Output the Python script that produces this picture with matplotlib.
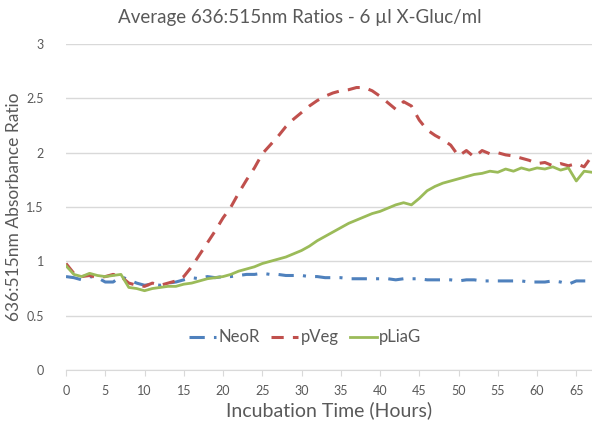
import numpy as np
import matplotlib
matplotlib.use("Agg")
from matplotlib import pyplot as plt

# ---------------------------------------------------------------------------
# Data (one value per hour)
# ---------------------------------------------------------------------------
hours = np.arange(0, 68)

neor = [0.86, 0.85, 0.83, 0.86, 0.85, 0.81, 0.81, 0.86, 0.83, 0.80,
        0.78, 0.79, 0.78, 0.80, 0.81, 0.83, 0.85, 0.84, 0.86, 0.85,
        0.86, 0.86, 0.87, 0.88, 0.88, 0.89, 0.88, 0.88, 0.87, 0.87,
        0.87, 0.86, 0.86, 0.85, 0.85, 0.85, 0.84, 0.84, 0.84, 0.84,
        0.84, 0.84, 0.83, 0.84, 0.84, 0.84, 0.83, 0.83, 0.83, 0.83,
        0.82, 0.83, 0.83, 0.82, 0.82, 0.82, 0.82, 0.82, 0.82, 0.81,
        0.81, 0.81, 0.82, 0.81, 0.79, 0.82, 0.82, 0.82]

pveg = [0.98, 0.89, 0.86, 0.87, 0.85, 0.86, 0.88, 0.86, 0.80, 0.78,
        0.77, 0.80, 0.78, 0.80, 0.82, 0.86, 0.95, 1.06, 1.17, 1.28,
        1.40, 1.50, 1.63, 1.75, 1.86, 1.99, 2.07, 2.15, 2.24, 2.31,
        2.37, 2.43, 2.48, 2.52, 2.55, 2.57, 2.58, 2.60, 2.60, 2.57,
        2.52, 2.46, 2.40, 2.47, 2.43, 2.30, 2.21, 2.16, 2.12, 2.07,
        1.97, 2.02, 1.96, 2.02, 1.99, 2.00, 1.98, 1.97, 1.95, 1.93,
        1.90, 1.91, 1.88, 1.90, 1.88, 1.90, 1.87, 1.97]

pliag = [0.96, 0.88, 0.86, 0.89, 0.87, 0.86, 0.87, 0.88, 0.76, 0.75,
         0.73, 0.75, 0.76, 0.77, 0.77, 0.79, 0.80, 0.82, 0.84, 0.85,
         0.86, 0.88, 0.91, 0.93, 0.95, 0.98, 1.00, 1.02, 1.04, 1.07,
         1.10, 1.14, 1.19, 1.23, 1.27, 1.31, 1.35, 1.38, 1.41, 1.44,
         1.46, 1.49, 1.52, 1.54, 1.52, 1.58, 1.65, 1.69, 1.72, 1.74,
         1.76, 1.78, 1.80, 1.81, 1.83, 1.82, 1.85, 1.83, 1.86, 1.84,
         1.86, 1.85, 1.87, 1.84, 1.86, 1.74, 1.83, 1.82]

x_ticks = list(range(0, 70, 5))
y_ticks = [0, 0.5, 1, 1.5, 2, 2.5, 3]

# ---------------------------------------------------------------------------
# Figure
# ---------------------------------------------------------------------------
plt.rcParams["font.family"] = ["Lato", "DejaVu Sans"]
text_grey = "#595959"
grid_grey = "#D9D9D9"

fig = plt.figure(figsize=(5.92, 4.30), dpi=100)
ax = fig.add_axes([0.1115, 0.1395, 0.8885, 0.758])

ax.plot(hours, neor, color="#4F81BD", lw=2.2, dashes=(5, 3, 1, 3), label="NeoR")
ax.plot(hours, pveg, color="#C0504D", lw=2.2, dashes=(4, 3), label="pVeg")
ax.plot(hours, pliag, color="#9BBB59", lw=2.0, label="pLiaG")

ax.set_xlim(0, 67)
ax.set_ylim(0, 3)
ax.set_xticks(x_ticks)
ax.set_yticks(y_ticks)
ax.set_yticklabels(["0", "0.5", "1", "1.5", "2", "2.5", "3"])

ax.grid(True, axis="y", color=grid_grey, lw=1)
ax.set_axisbelow(True)
for side in ["top", "right", "left"]:
    ax.spines[side].set_visible(False)
ax.spines["bottom"].set_color(grid_grey)
ax.tick_params(axis="y", length=0, pad=16, labelsize=9, labelcolor=text_grey)
ax.tick_params(axis="x", length=4, color=grid_grey, pad=7, labelsize=9,
               labelcolor=text_grey)

ax.set_xlabel("Incubation Time (Hours)", fontsize=14, color=text_grey, labelpad=3)
ax.set_ylabel("636:515nm Absorbance Ratio", fontsize=12.5, color=text_grey, labelpad=3)
fig.suptitle("Average 636:515nm Ratios - 6 µl X-Gluc/ml", x=0.507, y=0.978,
             fontsize=13.5, color=text_grey)

leg = ax.legend(loc="center", bbox_to_anchor=(0.455, 0.10), ncol=3, frameon=False,
                fontsize=12, handlelength=1.6, handletextpad=0.15, columnspacing=0.7,
                labelcolor=text_grey)

fig.savefig("out.png", dpi=100)
